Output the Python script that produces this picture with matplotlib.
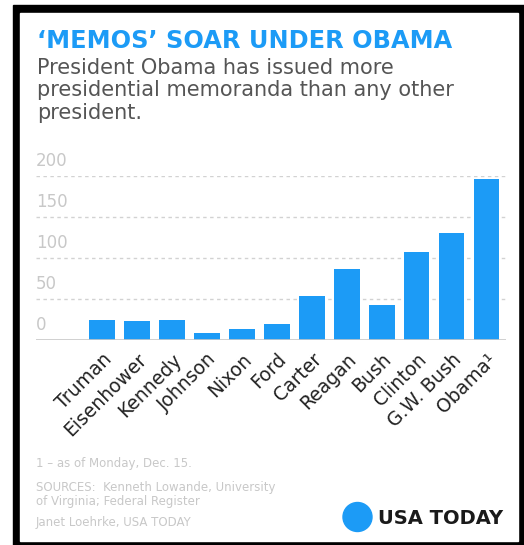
import matplotlib
matplotlib.use("Agg")
import matplotlib.pyplot as plt
from matplotlib.patches import Rectangle, Ellipse
from matplotlib import transforms

presidents = ["Truman", "Eisenhower", "Kennedy", "Johnson", "Nixon", "Ford",
              "Carter", "Reagan", "Bush", "Clinton", "G.W. Bush", "Obama\u00b9"]
memos = [25, 23, 24, 9, 14, 19, 54, 86, 43, 107, 131, 196]
y_ticks = [0, 50, 100, 150, 200]

title = "\u2018MEMOS\u2019 SOAR UNDER OBAMA"
subtitle = ["President Obama has issued more",
            "presidential memoranda than any other",
            "president."]
notes = ["1 \u2013 as of Monday, Dec. 15.",
         "SOURCES:  Kenneth Lowande, University",
         "of Virginia; Federal Register",
         "Janet Loehrke, USA TODAY"]

W, H = 524, 545
blue = "#1c9bf6"

plt.rcParams['font.family'] = ['DejaVu Sans']

fig = plt.figure(figsize=(W / 100, H / 100), dpi=100)

# frame: black border with white inside
fig.patches.append(Rectangle((13 / W, 0), 1 - 13 / W, 1 - 5 / H,
                             transform=fig.transFigure, color="black", zorder=-3))
fig.patches.append(Rectangle((20 / W, 4 / H), (518 - 20) / W, (541 - 13) / H,
                             transform=fig.transFigure, color="white", zorder=-2))


def fx(px):
    return px / W


def fy(px):
    return 1 - px / H


ax = fig.add_axes([fx(36), fy(340), fx(506) - fx(36), fy(176) - fy(340)])
ax.set_zorder(2)
ax.set_facecolor("none")
x = list(range(len(presidents)))
ax.bar(x, memos, width=0.74, color=blue, zorder=3)
ax.set_xlim(-1.89, 11.56)
ax.set_ylim(0, 200)

for v in y_ticks:
    if v == 0:
        ax.axhline(0, color="#c8c8c8", linewidth=1.2, zorder=4)
    else:
        ax.axhline(v, color="#d2d2d2", linewidth=1.0, linestyle=(0, (2.5, 2.5)), zorder=1)
    off = transforms.offset_copy(ax.transData, fig=fig, x=0, y=7, units="points")
    ax.text(-1.89, v, str(v), transform=off, ha="left", va="baseline",
            fontsize=12, color="#c8c8c8")

ax.set_yticks([])
ax.set_xticks(x)
ax.set_xticklabels(presidents, rotation=45, ha="right", va="top",
                   rotation_mode="anchor", fontsize=13.5, color="#222222")
ax.tick_params(axis="x", length=0, pad=7)
for s in ax.spines.values():
    s.set_visible(False)

fig.text(fx(37), fy(48), title, fontsize=17.3, fontweight="bold", color=blue,
         ha="left", va="baseline")
for i, line in enumerate(subtitle):
    fig.text(fx(37), fy(74 + 22.5 * i), line, fontsize=15, color="#555555",
             ha="left", va="baseline")

note_y = [467, 491, 505, 526]
for line, yy in zip(notes, note_y):
    fig.text(fx(36), fy(yy), line, fontsize=8.5, color="#c8c8c8",
             ha="left", va="baseline")

fig.patches.append(Ellipse((fx(357.5), fy(517)), 29 / W, 29 / H,
                           transform=fig.transFigure, color=blue, zorder=2))
fig.text(fx(378), fy(524), "USA TODAY", fontsize=14, fontweight="heavy",
         color="#1a1a1a", ha="left", va="baseline")

fig.savefig("out.png", dpi=100)
